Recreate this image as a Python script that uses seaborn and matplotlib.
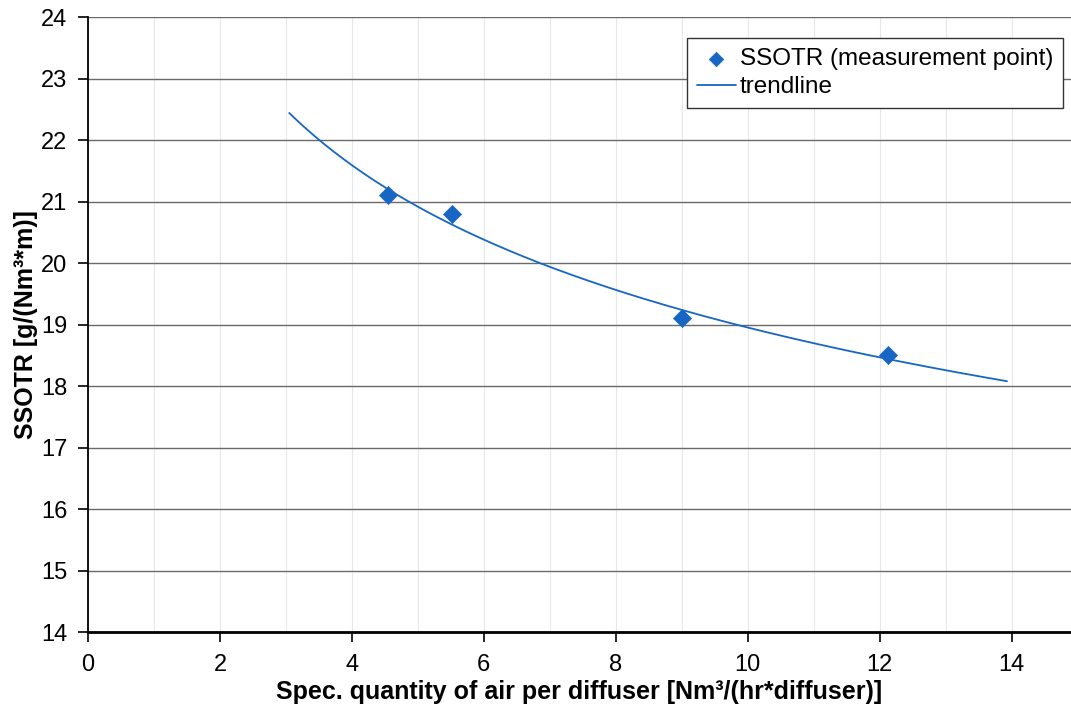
import numpy as np
import pandas as pd
import matplotlib.pyplot as plt
import seaborn as sns

air_per_diffuser = [4.55, 5.52, 9.01, 12.12]
ssotr = [21.1, 20.8, 19.1, 18.5]
trend_start, trend_end = 3.05, 13.93

meas = pd.DataFrame({'air': air_per_diffuser, 'ssotr': ssotr})

# power trendline y = a*x^b fitted on the points (like Excel)
b, ln_a = np.polyfit(np.log(meas.air), np.log(meas.ssotr), 1)
tx = np.linspace(trend_start, trend_end, 200)
trend = pd.DataFrame({'air': tx, 'ssotr': np.exp(ln_a) * tx ** b})

sns.set_style('white')
plt.rcParams['font.family'] = ['Liberation Sans', 'DejaVu Sans']
plt.rcParams['text.color'] = 'black'
plt.rcParams['axes.labelcolor'] = 'black'
plt.rcParams['xtick.labelcolor'] = 'black'
plt.rcParams['ytick.labelcolor'] = 'black'

fig = plt.figure(figsize=(10.71, 7.13), dpi=100)
ax = fig.add_axes([0.0822, 0.1136, 0.9178, 0.8624])

blue = '#1766c4'
sns.lineplot(data=trend, x='air', y='ssotr', ax=ax, color=blue, linewidth=1.3,
             label='trendline', zorder=3)
sns.scatterplot(data=meas, x='air', y='ssotr', ax=ax, marker='D', s=85, color=blue,
                edgecolor=blue, linewidth=0.5, label='SSOTR (measurement point)', zorder=4)

ax.set_xlim(0, 14.9)
ax.set_ylim(14, 24)
ax.set_xticks(range(0, 15, 2))
ax.set_xticks(range(0, 15), minor=True)
ax.set_yticks(range(14, 25))
ax.grid(axis='x', which='both', color='#e6e6ee', linewidth=0.8)
ax.grid(axis='y', which='major', color='#6a6a6a', linewidth=1.0)
ax.set_axisbelow(True)

for s in ['top', 'right']:
    ax.spines[s].set_visible(False)
ax.spines['left'].set_color('black')
ax.spines['left'].set_linewidth(1.3)
ax.spines['bottom'].set_color('black')
ax.spines['bottom'].set_linewidth(2.0)
ax.tick_params(axis='both', which='major', direction='out', length=7, width=1.2,
               color='black', labelsize=17, left=True, bottom=True)
ax.tick_params(axis='y', pad=8)
ax.tick_params(axis='x', pad=9)
ax.tick_params(axis='x', which='minor', length=0)

ax.set_xlabel('Spec. quantity of air per diffuser [Nm³/(hr*diffuser)]', fontsize=18,
              fontweight='bold', labelpad=3)
ax.set_ylabel('SSOTR [g/(Nm³*m)]', fontsize=18, fontweight='bold', labelpad=2)

h, l = ax.get_legend_handles_labels()
leg = ax.legend(h[::-1], l[::-1], loc='upper right', bbox_to_anchor=(0.9915, 0.9655),
                fontsize=17.5, frameon=True, fancybox=False, edgecolor='#333333',
                framealpha=1, handlelength=1.6, handletextpad=0.15, borderpad=0.4,
                labelspacing=0.25, borderaxespad=0, markerscale=0.8)
leg.get_frame().set_linewidth(1.0)

fig.savefig('out.png', dpi=100)
